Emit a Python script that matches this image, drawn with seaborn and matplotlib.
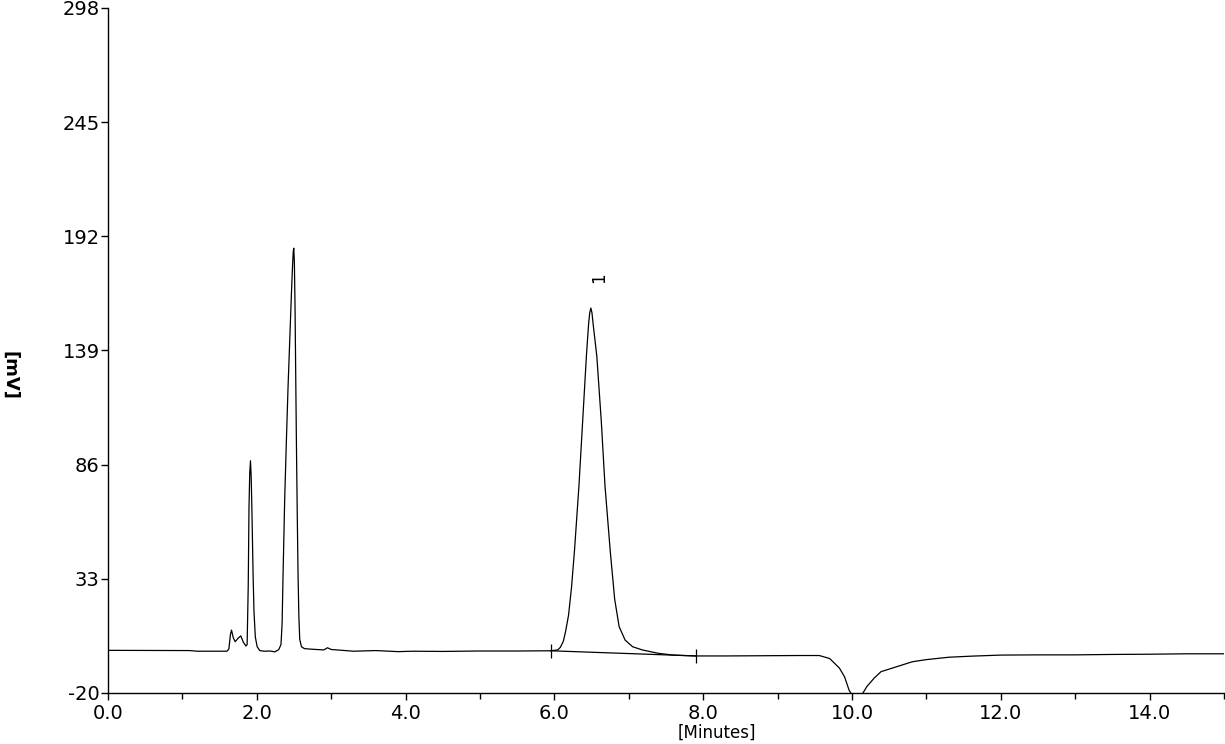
import numpy as np
import pandas as pd
import matplotlib
matplotlib.use("Agg")
import matplotlib.pyplot as plt
import seaborn as sns
from matplotlib.ticker import MultipleLocator

# detector trace (minutes, mV)
time_min = [
    0.00, 1.10, 1.20, 1.60,
    1.625, 1.645, 1.66, 1.685, 1.71, 1.75, 1.785, 1.82, 1.855, 1.87,
    1.885, 1.895, 1.905, 1.915, 1.925, 1.937, 1.95, 1.962, 1.98, 2.005,
    2.04, 2.10, 2.18, 2.24, 2.29,
    2.30, 2.325, 2.34, 2.353, 2.375, 2.398, 2.42, 2.443, 2.465, 2.48, 2.49,
    2.497, 2.505, 2.514, 2.523, 2.532, 2.543, 2.554, 2.565, 2.577, 2.60,
    2.64, 2.75, 2.90, 2.95, 3.00, 3.30, 3.60, 3.90, 4.10, 4.50, 5.00, 5.50,
    5.95, 6.045, 6.08,
    6.12, 6.15, 6.19, 6.23, 6.27, 6.33, 6.38, 6.43, 6.46, 6.475, 6.49, 6.505,
    6.52, 6.57, 6.63, 6.68, 6.75, 6.81, 6.87, 6.95, 7.05, 7.18,
    7.40, 7.60, 7.90, 8.30, 8.80, 9.30, 9.56, 9.70, 9.83, 9.90, 9.96,
    10.00, 10.07, 10.13, 10.20, 10.30, 10.39, 10.60, 10.81, 11.00, 11.30,
    11.60, 12.00, 12.50, 13.00, 13.50, 14.00, 14.50, 15.00,
]
signal_mv = [
    -0.2, -0.3, -0.6, -0.6,
    0.5, 7.0, 9.2, 5.5, 3.8, 5.5, 6.5, 3.5, 1.8, 2.5,
    30.0, 66.0, 82.0, 87.8, 80.0, 60.0, 35.0, 18.0, 6.0, 1.5,
    -0.3, -0.6, -0.5, -0.9, 0.0,
    0.5, 2.5, 12.0, 35.0, 70.0, 97.5, 122.0, 144.0, 165.0, 178.0, 185.0,
    186.5, 180.0, 159.0, 128.0, 97.5, 65.0, 36.0, 16.0, 5.0, 1.5,
    0.6, 0.3, 0.0, 1.0, 0.2, -0.6, -0.3, -0.8, -0.6, -0.7, -0.5, -0.5,
    -0.4, 0.0, 1.2,
    4.0, 8.5, 16.1, 29.0, 46.1, 76.2, 106.3, 136.4, 151.5, 156.5, 158.7, 156.5,
    151.5, 136.4, 106.3, 76.2, 46.1, 23.6, 10.8, 4.6, 1.5, 0.0,
    -1.6, -2.4, -2.8, -2.8, -2.7, -2.6, -2.6, -4.0, -8.4, -12.5, -18.6,
    -21.0, -25.0, -21.0, -17.0, -13.0, -10.1, -7.8, -5.5, -4.5, -3.4,
    -2.9, -2.4, -2.3, -2.3, -2.1, -2.0, -1.8, -1.8,
]

# integration baseline of peak 1
base_time = [5.95, 7.90]
base_mv = [-0.4, -2.8]

peak_label = "1"
peak_label_pos = (6.6, 172.7)

y_ticks = [-20, 33, 86, 139, 192, 245, 298]
x_ticks = [0.0, 2.0, 4.0, 6.0, 8.0, 10.0, 12.0, 14.0]

sns.set_style("ticks")
plt.rcParams["font.family"] = ["DejaVu Sans"]
plt.rcParams["text.color"] = "black"

trace = pd.DataFrame({"time": time_min, "mV": signal_mv})

fig = plt.figure(figsize=(12.25, 7.44), dpi=100)
ax = fig.add_axes([108 / 1225, 1 - 693 / 744, 1116 / 1225, 685 / 744])

sns.lineplot(data=trace, x="time", y="mV", color="black", lw=0.9,
             estimator=None, ax=ax)
ax.plot(base_time, base_mv, color="black", lw=0.9, marker="|",
        markersize=10, markeredgewidth=0.9)

ax.text(peak_label_pos[0], peak_label_pos[1], peak_label, rotation=90,
        ha="center", va="center", fontsize=12)

ax.set_xlim(0, 15)
ax.set_ylim(-20, 298)
ax.set_xticks(x_ticks)
ax.set_xticklabels([f"{v:.1f}" for v in x_ticks])
ax.xaxis.set_minor_locator(MultipleLocator(1.0))
ax.set_yticks(y_ticks)
ax.set_yticklabels([str(v) for v in y_ticks])

ax.tick_params(axis="both", which="major", labelsize=14, color="black",
               labelcolor="black", width=1)
ax.tick_params(axis="x", which="major", length=5, pad=3)
ax.tick_params(axis="y", which="major", length=5, pad=1)
ax.tick_params(axis="x", which="minor", length=4, width=1, color="black")

for side in ["left", "bottom"]:
    ax.spines[side].set_color("black")
    ax.spines[side].set_linewidth(1)
sns.despine(ax=ax)

ax.set_xlabel("[Minutes]", fontsize=12, va="top", color="black")
ax.xaxis.set_label_coords(0.546, -(724 - 693) / 685)
ax.set_ylabel("")
fig.text(10 / 1225, 1 - 375 / 744, "[mV]", rotation=270, fontsize=13,
         fontweight="bold", ha="center", va="center", color="black")

fig.savefig("out.png", dpi=100)
